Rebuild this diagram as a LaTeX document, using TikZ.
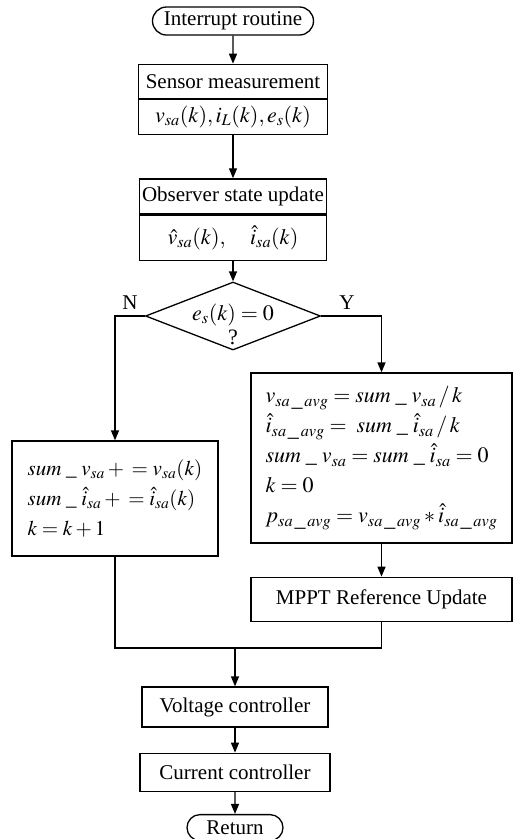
\documentclass[tikz,border=0pt]{standalone}
\usepackage{mathptmx}
\usepackage{fontspec}
\setmainfont{Liberation Serif}
\usepackage{tikz}
\usetikzlibrary{arrows.meta,positioning,shapes.geometric,shapes.misc}

\newcommand{\us}{\;\_\;}
\newcommand{\sub}{\,\_\,}

\begin{document}
\begin{tikzpicture}[
  x=1pt, y=-1pt,
  font=\fontsize{21}{25}\selectfont,
  line width=1.3pt,
  proc/.style={draw, rectangle, align=center, inner sep=2pt},
  eqbox/.style={draw, rectangle, align=left, inner sep=4pt, font=\fontsize{22}{30}\selectfont},
  dec/.style={draw, diamond, minimum width=175pt, minimum height=68pt, inner sep=0pt},
  term/.style={draw, rounded rectangle, align=center, inner sep=2pt},
  arr/.style={-{Triangle[length=10pt,width=8pt]}}
]
\useasboundingbox (0,0) rectangle (517,839);
\node[term, minimum width=165pt, minimum height=28pt] (s) at (233,21) {Interrupt routine};
\node[proc, minimum width=189pt, minimum height=34pt, below=28pt of s] (sens) {Sensor measurement};
\node[proc, minimum width=189pt, minimum height=35pt, below=0pt of sens, font=\fontsize{22}{26}\selectfont] (sensv) {$v_{sa}(k), i_L(k), e_s(k)$};
\node[proc, minimum width=187pt, minimum height=35pt, below=43pt of sensv] (obs) {Observer state update};
\node[proc, minimum width=187pt, minimum height=45pt, below=0pt of obs, font=\fontsize{22}{26}\selectfont] (obsv) {$\hat{v}_{sa}(k),\quad \hat{i}_{sa}(k)$};
\node[dec] (chk) at (233,316) {};
\node[align=center, font=\fontsize{22}{24}\selectfont] (chkt) at (233,324) {$e_s(k)=0$\\?};
\node (n) at (130,303) {N};
\node (y) at (347,303) {Y};
\node[eqbox, minimum width=206pt, minimum height=115pt, font=\fontsize{21}{30}\selectfont] (acc) at (115,498.5)
  {$sum\us v_{sa} +{} = v_{sa}(k)$\\
   $sum\us \hat{i}_{sa} +{} = \hat{i}_{sa}(k)$\\
   $k = k+1$};
\node[eqbox, minimum width=261pt, minimum height=170pt] (avg) at (381.5,458)
  {$v_{sa\sub avg} = sum\us v_{sa}\,/\,k$\\
   $\hat{i}_{sa\sub avg} = \; sum\us \hat{i}_{sa}\,/\,k$\\
   $sum\us v_{sa} = sum\us \hat{i}_{sa} = 0$\\
   $k = 0$\\
   $p_{sa\sub avg} = v_{sa\sub avg} * \hat{i}_{sa\sub avg}$};
\node[proc, minimum width=261pt, minimum height=44pt, below=33pt of avg] (mppt) {MPPT Reference Update};
\coordinate (j) at (235,648);
\node[proc, minimum width=186pt, minimum height=40pt] (volt) at (235,707) {Voltage controller};
\node[proc, minimum width=190pt, minimum height=38pt, below=25pt of volt] (cur) {Current controller};
\node[term, minimum width=100pt, minimum height=26pt, below=22pt of cur] (e) {Return};
\draw[arr] (s) -- (sens);
\draw[arr] (sensv) -- (obs);
\draw[arr] (obsv) -- (chk);
\draw[arr] (chk.west) -| (acc.north);
\draw[arr] (chk.east) -| (avg.north);
\draw[arr] (avg) -- (mppt);
\draw (acc.south) |- (mppt.south |- j) -- (mppt.south);
\draw[arr] (j) -- (volt);
\draw[arr] (volt) -- (cur);
\draw[arr] (cur) -- (e);
\end{tikzpicture}
\end{document}
